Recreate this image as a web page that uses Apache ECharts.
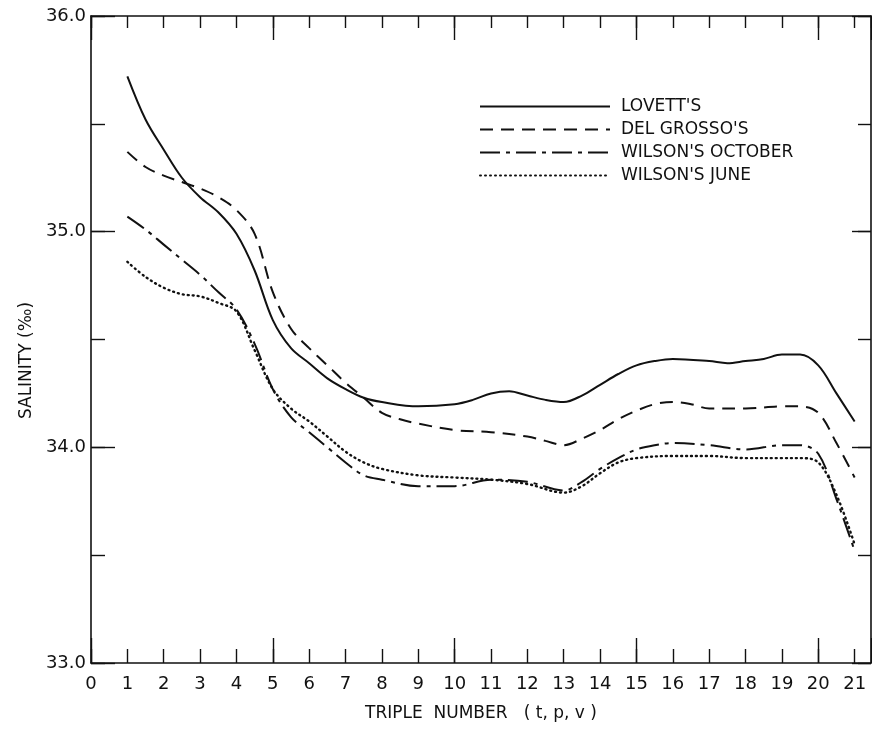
<!DOCTYPE html>
<html>
<head>
<meta charset="utf-8">
<script src="https://cdn.jsdelivr.net/npm/echarts@6/dist/echarts.min.js"></script>
<style>html,body{margin:0;padding:0;background:#fff}#c{width:872px;height:729px}</style>
</head>
<body>
<div id="c"></div>
<script>
// Triple number positions and salinity (per mil) readings
const lovettX = [1,1.5,2,2.5,3,3.5,4,4.5,5,5.5,6,6.5,7,7.5,8,9,10,10.5,11,11.5,12,12.5,13,13.5,14,14.5,15,15.5,16,17,17.5,18,18.5,19,19.5,20,20.5,21];
const lovettY = [35.72,35.52,35.38,35.25,35.16,35.09,34.99,34.82,34.59,34.46,34.39,34.32,34.27,34.23,34.21,34.19,34.20,34.22,34.25,34.26,34.24,34.22,34.21,34.24,34.29,34.34,34.38,34.40,34.41,34.40,34.39,34.40,34.41,34.43,34.43,34.38,34.25,34.12];

const delGrossoX = [1,1.5,2,2.5,3,3.5,4,4.5,5,5.5,6,6.5,7,7.5,8,8.5,9,10,11,12,12.5,13,13.5,14,14.5,15,15.5,16,16.5,17,18,19,19.5,20,20.5,21];
const delGrossoY = [35.37,35.30,35.26,35.23,35.20,35.16,35.10,34.99,34.72,34.55,34.46,34.38,34.30,34.23,34.16,34.13,34.11,34.08,34.07,34.05,34.03,34.01,34.04,34.08,34.13,34.17,34.20,34.21,34.20,34.18,34.18,34.19,34.19,34.16,34.02,33.86];

const wilsonOctX = [1,1.5,2,2.5,3,3.5,4,4.5,5,5.5,6,6.5,7,7.5,8,9,10,11,12,13,13.5,14,14.5,15,15.5,16,17,18,19,19.5,20,20.5,21];
const wilsonOctY = [35.07,35.01,34.94,34.87,34.80,34.72,34.64,34.48,34.27,34.14,34.07,34.00,33.93,33.87,33.85,33.82,33.82,33.85,33.84,33.80,33.84,33.90,33.95,33.99,34.01,34.02,34.01,33.99,34.01,34.01,33.97,33.76,33.52];

const wilsonJuneX = [1,1.5,2,2.5,3,3.5,4,4.5,5,5.5,6,6.5,7,7.5,8,9,10,11,12,13,13.5,14,14.5,15,16,17,18,19,19.5,20,20.5,21];
const wilsonJuneY = [34.86,34.79,34.74,34.71,34.70,34.67,34.63,34.45,34.27,34.18,34.12,34.05,33.98,33.93,33.90,33.87,33.86,33.85,33.83,33.79,33.82,33.88,33.93,33.95,33.96,33.96,33.95,33.95,33.95,33.93,33.78,33.55];

const seriesNames = ["LOVETT'S", "DEL GROSSO'S", "WILSON'S OCTOBER", "WILSON'S JUNE"];
const xAxisTitle = "TRIPLE  NUMBER   ( t, p, v )";
const yAxisTitle = "SALINITY (‰)";

const FONT = "DejaVu Sans";
const INK = "#111";

function pairs(xs, ys) { return xs.map((x, i) => [x, ys[i]]); }

const chart = echarts.init(document.getElementById('c'), null, {renderer: 'canvas'});

function xAx(pos, interval, len, showLabel, showLine, extra) {
  return Object.assign({
    type: 'value', position: pos, min: 0, max: 21.45, interval: interval,
    axisLine: {show: showLine, onZero: false, lineStyle: {color: INK, width: 1.6}},
    axisTick: {show: true, inside: true, length: len, lineStyle: {color: INK, width: 1.4}},
    axisLabel: {show: showLabel, showMaxLabel: false, color: INK, fontFamily: FONT, fontSize: 18, margin: 12},
    splitLine: {show: false}
  }, extra || {});
}
function yAx(pos, interval, len, showLabel, showLine, extra) {
  return Object.assign({
    type: 'value', position: pos, min: 33, max: 36, interval: interval,
    axisLine: {show: showLine, onZero: false, lineStyle: {color: INK, width: 1.6}},
    axisTick: {show: true, inside: true, length: len, lineStyle: {color: INK, width: 1.4}},
    axisLabel: {show: showLabel, color: INK, fontFamily: FONT, fontSize: 18, margin: 5,
      formatter: v => v.toFixed(1)},
    splitLine: {show: false}
  }, extra || {});
}

const lineBase = {type: 'line', smooth: 0.35, symbol: 'none', showSymbol: false, xAxisIndex: 0, yAxisIndex: 0};

chart.setOption({
  animation: false,
  backgroundColor: '#fff',
  grid: {left: 91, right: 1, top: 16, bottom: 66, containLabel: false},
  legend: {
    orient: 'vertical', left: 474, top: 93,
    itemWidth: 130, itemHeight: 14, itemGap: 6,
    itemStyle: {opacity: 0, borderWidth: 0},
    textStyle: {color: INK, fontFamily: FONT, fontSize: 17, lineHeight: 16, padding: [0, 0, 0, 6]},
    data: seriesNames
  },
  xAxis: [
    xAx('bottom', 1, 14, true, true, {
      name: xAxisTitle, nameLocation: 'middle', nameGap: 42,
      nameTextStyle: {color: INK, fontFamily: FONT, fontSize: 17}
    }),
    xAx('bottom', 5, 25, false, false),
    xAx('top', 1, 12, false, true),
    xAx('top', 5, 24, false, false)
  ],
  yAxis: [
    yAx('left', 1, 24, true, true, {
      name: yAxisTitle, nameLocation: 'middle', nameGap: 56,
      nameTextStyle: {color: INK, fontFamily: FONT, fontSize: 17, padding: [0, 42, 0, 0]}
    }),
    yAx('left', 0.5, 14, false, false),
    yAx('right', 1, 19, false, true),
    yAx('right', 0.5, 13, false, false)
  ],
  series: [
    Object.assign({}, lineBase, {name: seriesNames[0], data: pairs(lovettX, lovettY),
      lineStyle: {color: INK, width: 2}, itemStyle: {color: INK}}),
    Object.assign({}, lineBase, {name: seriesNames[1], data: pairs(delGrossoX, delGrossoY),
      lineStyle: {color: INK, width: 2, type: [13, 8]}, itemStyle: {color: INK}}),
    Object.assign({}, lineBase, {name: seriesNames[2], data: pairs(wilsonOctX, wilsonOctY),
      lineStyle: {color: INK, width: 2, type: [20, 6, 4, 6]}, itemStyle: {color: INK}}),
    Object.assign({}, lineBase, {name: seriesNames[3], data: pairs(wilsonJuneX, wilsonJuneY),
      lineStyle: {color: INK, width: 2.4, type: [1, 4], cap: 'round'}, itemStyle: {color: INK}})
  ]
});
</script>
</body>
</html>
